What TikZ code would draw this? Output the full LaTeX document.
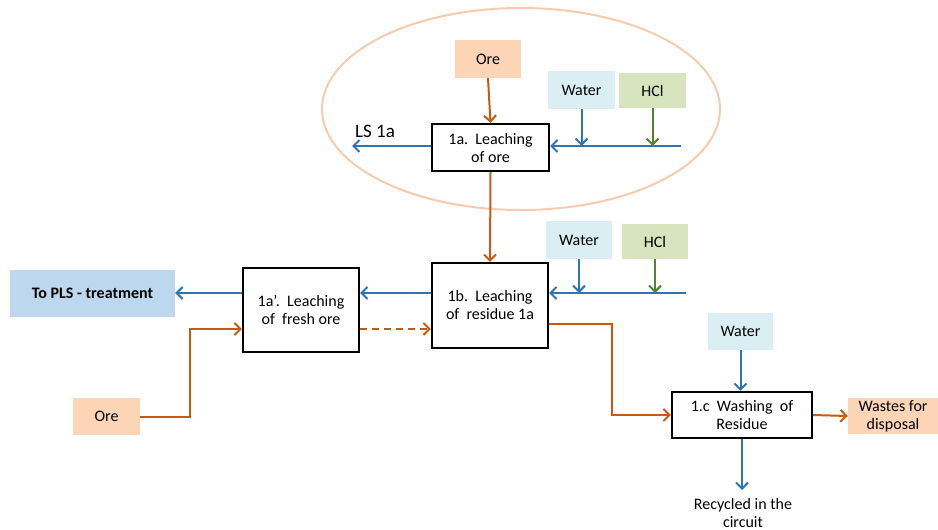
\documentclass[tikz,border=0pt]{standalone}
\usepackage{fontspec}
\setmainfont{Carlito}
\usetikzlibrary{arrows.meta}
\definecolor{oline}{HTML}{C55A11}
\definecolor{bline}{HTML}{2E75B6}
\definecolor{gline}{HTML}{548235}
\definecolor{peach}{HTML}{FBD5B5}
\definecolor{lblue}{HTML}{DAEEF3}
\definecolor{lgreen}{HTML}{D7E4BD}
\definecolor{plsblue}{HTML}{BDD7EE}
\definecolor{ellc}{HTML}{F8CBAD}
\begin{document}
\begin{tikzpicture}[x=1pt,y=-1pt,
  every node/.style={font=\fontsize{16}{18}\selectfont, inner sep=0pt, align=center},
  feed/.style={fill=#1, draw=none},
  proc/.style={draw=black, line width=2.2pt, fill=white},
  arr/.style={line width=2pt, -{Straight Barb[length=6pt,width=12pt]}},
  ol/.style={draw=oline, line width=2pt},
  bl/.style={draw=bline, line width=2pt},
  gl/.style={draw=gline, line width=2pt}]
\useasboundingbox (0,0) rectangle (938,530);
% ellipse
\draw[draw=ellc, line width=2pt] (521,109) ellipse [x radius=199, y radius=101];
% feeds
\node[feed=peach, minimum width=66pt, minimum height=38pt] (ore1) at (488,59) {Ore};
\node[feed=lblue, minimum width=67pt, minimum height=38pt] (water1) at (581.5,90) {Water};
\node[feed=lgreen, minimum width=67pt, minimum height=35pt] (hcl1) at (652.5,90.5) {HCl};
\node[feed=lblue, minimum width=66pt, minimum height=38pt] (water2) at (579,240) {Water};
\node[feed=lgreen, minimum width=66pt, minimum height=35pt] (hcl2) at (655,241.5) {HCl};
\node[feed=plsblue, minimum width=165pt, minimum height=47pt, font=\fontsize{16}{18}\selectfont\bfseries] (pls) at (92.5,293.5) {To PLS - treatment};
\node[feed=peach, minimum width=67pt, minimum height=37pt] (ore2) at (106.5,416.5) {Ore};
\node[feed=lblue, minimum width=65pt, minimum height=37pt] (water3) at (740.5,331.5) {Water};
\node[feed=peach, minimum width=90pt, minimum height=36pt] (wastes) at (893,416) {Wastes for\\disposal};
% process boxes
\node[proc, minimum width=117pt, minimum height=47pt] (b1a) at (490.5,147.5) {1a.\ \ Leaching\\of ore};
\node[proc, minimum width=116pt, minimum height=85pt] (b1b) at (490,305.5) {1b.\ \ Leaching\\of\ \ residue 1a};
\node[proc, minimum width=116pt, minimum height=84pt] (b1ap) at (301,310) {1a’.\ \ Leaching\\of\ \ fresh ore};
\node[proc, minimum width=140pt, minimum height=46pt] (b1c) at (742,415) {1.c\ \ Washing\ \ of\\Residue};
% text labels
\node[anchor=west, font=\fontsize{19}{21}\selectfont] (ls) at (355,131) {LS 1a};
\node (rec) at (743,513) {Recycled in the\\circuit};
% free ends
\coordinate (f1) at (681,146);
\coordinate (f2) at (686,293);
\coordinate (d) at (0,329);
\coordinate (r) at (612,324);
\coordinate (lsend) at (352,146);
\coordinate (recend) at (742,490);
% stage 1a
\draw[ol, arr] (ore1.south) -- (b1a.north);
\draw[bl, arr] (f1) -- (b1a.east |- f1);
\draw[bl, arr] (water1.south) -- (water1.south |- f1);
\draw[gl, arr] (hcl1.south) -- (hcl1.south |- f1);
\draw[bl, arr] (b1a.west |- f1) -- (lsend);
\draw[ol, arr] (b1a.south) -- (b1b.north);
% stage 1b
\draw[bl, arr] (f2) -- (b1b.east |- f2);
\draw[bl, arr] (water2.south) -- (water2.south |- f2);
\draw[gl, arr] (hcl2.south) -- (hcl2.south |- f2);
\draw[bl, arr] (b1b.west |- f2) -- (b1ap.east |- f2);
\draw[bl, arr] (b1ap.west |- f2) -- (pls.east |- f2);
\draw[ol, arr, dash pattern=on 7pt off 5pt] (b1ap.east |- d) -- (b1b.west |- d);
\draw[ol, arr] (ore2.east) -- ++(50,0) |- (b1ap.west |- d);
\draw[ol, arr] (b1b.east |- r) -- (r) |- (b1c.west);
% stage 1c
\draw[bl, arr] (water3.south) -- (water3.south |- b1c.north);
\draw[ol, arr] (b1c.east) -- (wastes.west);
\draw[bl, arr] (b1c.south) -- (recend);
\end{tikzpicture}
\end{document}
